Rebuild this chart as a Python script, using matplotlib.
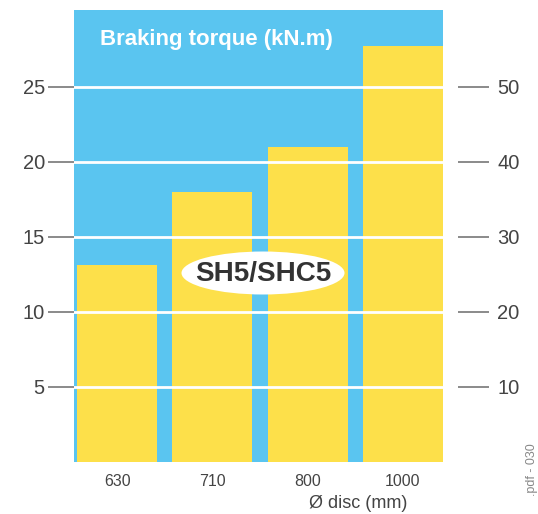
import matplotlib
matplotlib.use("Agg")
import matplotlib.pyplot as plt
from matplotlib.patches import Ellipse

plt.rcParams['font.family'] = ['Liberation Sans', 'DejaVu Sans']

discs = ["630", "710", "800", "1000"]
torque = [13.1, 18.0, 21.0, 27.7]          # kN.m, left scale
left_ticks = [5, 10, 15, 20, 25]
right_ticks = [10, 20, 30, 40, 50]

blue = "#5ac5f0"
yellow = "#fde04a"
grey = "#444444"

W, H = 538, 514
fig = plt.figure(figsize=(W / 100, H / 100), dpi=100)
fig.patch.set_facecolor("white")

# axes box in pixels: x 74..443, y 10..462
ax = fig.add_axes([74 / W, 1 - 462 / H, (443 - 74) / W, (462 - 10) / H])
ax.set_facecolor(blue)

x = range(len(discs))
ax.bar(x, torque, width=0.842, color=yellow, zorder=1)
ax.set_xlim(-0.453, 3.421)
ax.set_ylim(0, 30.1)

for v in left_ticks:
    ax.axhline(v, color="white", lw=2, zorder=2)

for s in ax.spines.values():
    s.set_visible(False)

ax.set_yticks(left_ticks)
ax.tick_params(axis="y", length=19, width=1.2, color="#777777",
               labelsize=14.5, labelcolor=grey, pad=2)
ax.set_xticks(list(x))
ax.set_xticklabels(discs)
ax.tick_params(axis="x", length=0, labelsize=11.5, labelcolor=grey, pad=9)

ax2 = ax.twinx()
ax2.set_ylim(0, 60.2)
ax2.set_yticks(right_ticks)
for s in ax2.spines.values():
    s.set_visible(False)
ax2.spines["right"].set_position(("outward", 11))
ax2.tick_params(axis="y", length=22, width=1.2, color="#777777",
                labelsize=14.5, labelcolor=grey, pad=6)

ax.text(0.07, 0.935, "Braking torque (kN.m)", transform=ax.transAxes,
        color="white", fontsize=16, fontweight="bold", ha="left", va="center")

fig.add_artist(Ellipse((263 / W, 1 - 273 / H), 163 / W, 43 / H,
                       transform=fig.transFigure, facecolor="white",
                       edgecolor="none", zorder=5))
fig.text(263 / W, 1 - 274 / H, "SH5/SHC5", fontsize=20, fontweight="bold",
         color="#333333", ha="center", va="center", zorder=6)

fig.text(358 / W, 1 - 503 / H, "Ø disc (mm)", fontsize=13, color=grey,
         ha="center", va="center")
fig.text(532 / W, 1 - 443 / H, ".pdf - 030", fontsize=9, color="#888888",
         rotation=90, ha="center", va="top")

fig.savefig("out.png", dpi=100)
